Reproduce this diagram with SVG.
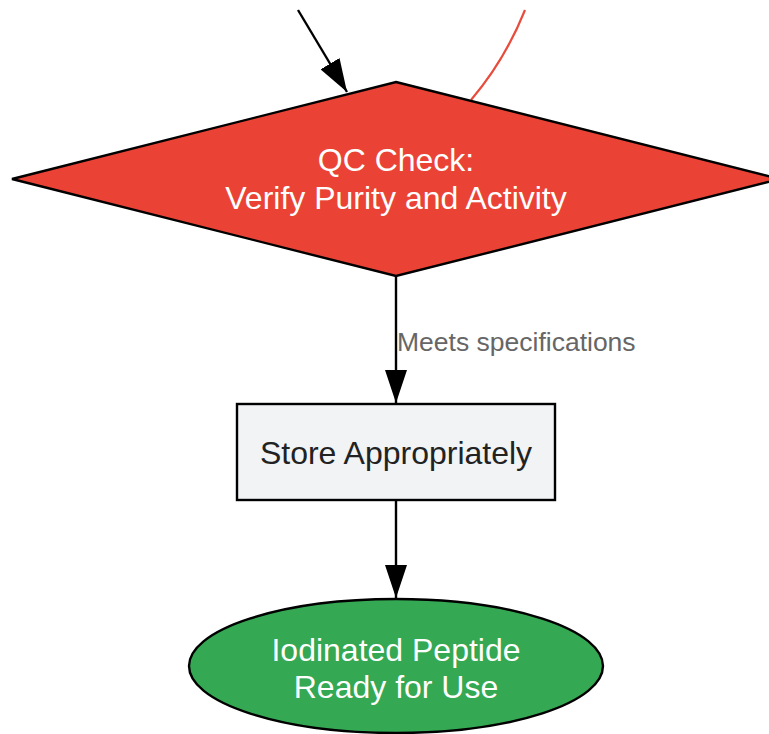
<svg xmlns="http://www.w3.org/2000/svg" width="769" height="734" viewBox="0 0 769 734">
<style>
.lbl{font-family:"Liberation Sans",Arial,sans-serif;text-anchor:middle}
.edge{stroke:#000;stroke-width:2.4;fill:none}
.shape{stroke:#000;stroke-width:2.4}
</style>
<defs>
<marker id="ahv" markerWidth="33" markerHeight="22" viewBox="0 0 33 22" refX="33" refY="11" orient="auto" markerUnits="userSpaceOnUse"><path d="M0,0 L33,11 L0,22 z" fill="#000"/></marker>
</defs>
<rect width="769" height="734" fill="#fff"/>
<g id="connectors">
<path d="M298,10 L347,92" class="edge" marker-end="url(#ahv)"/>
<path d="M525,10 Q505,60 471,100" stroke="#e74c3c" stroke-width="2.2" fill="none"/>
<path d="M396,276 L396,403" class="edge" marker-end="url(#ahv)"/>
<text class="lbl" x="397" y="351" font-size="26.5" fill="#666" style="text-anchor:start">Meets specifications</text>
<path d="M396,500 L396,598" class="edge" marker-end="url(#ahv)"/>
</g>
<g id="qc">
<polygon class="shape" points="396,82 780,179 396,276 12,179" fill="#ea4335"/>
<text class="lbl" x="396" y="171" font-size="32" fill="#fff">QC Check:</text>
<text class="lbl" x="396" y="209" font-size="32" fill="#fff">Verify Purity and Activity</text>
</g>
<g id="store">
<rect class="shape" x="237" y="404" width="318" height="96" fill="#f1f3f5"/>
<text class="lbl" x="396" y="464" font-size="32" fill="#222">Store Appropriately</text>
</g>
<g id="ready">
<ellipse class="shape" cx="396" cy="666" rx="207" ry="67" fill="#34a853"/>
<text class="lbl" x="396" y="661" font-size="32" fill="#fff">Iodinated Peptide</text>
<text class="lbl" x="396" y="698" font-size="32" fill="#fff">Ready for Use</text>
</g>
</svg>
